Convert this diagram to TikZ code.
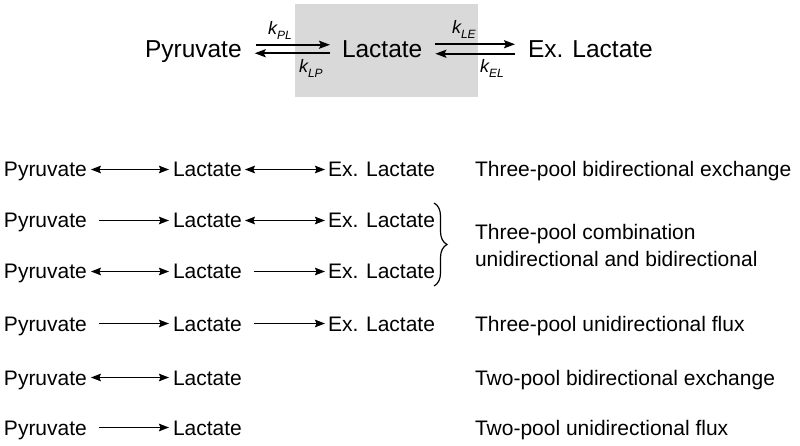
\documentclass[tikz,border=0pt]{standalone}
\usepackage{fontspec}
\setmainfont{Liberation Sans}
\usetikzlibrary{arrows.meta,decorations.pathreplacing}
\definecolor{boxgray}{RGB}{217,217,217}
\begin{document}
\begin{tikzpicture}[x=1pt,y=-1pt,
  lbl/.style={inner sep=0pt,outer sep=0pt,anchor=base west,font=\fontsize{21}{25}\selectfont,text height=15pt,text depth=0pt},
  toplbl/.style={inner sep=0pt,outer sep=0pt,anchor=base west,font=\fontsize{24.5}{28}\selectfont,text height=17.5pt,text depth=0pt},
  klbl/.style={inner sep=0pt,outer sep=0pt,anchor=base west,font=\fontsize{18}{18}\selectfont\itshape},
  desc/.style={inner sep=0pt,outer sep=0pt,anchor=base west,font=\fontsize{21}{25}\selectfont},
  bi/.style={line width=1.5pt,{Stealth[length=10pt,width=7.5pt,inset=1.5pt]}-{Stealth[length=10pt,width=7.5pt,inset=1.5pt]}},
  uni/.style={line width=1.5pt,-{Stealth[length=10pt,width=7.5pt,inset=1.5pt]}},
  topar/.style={line width=1.9pt,-{Stealth[length=11pt,width=8pt,inset=2pt]}}
]
\useasboundingbox (0,0) rectangle (800,446);
% top scheme
\fill[boxgray] (295,4) rectangle (478,97);
\node[toplbl] (p0) at (145,58) {Pyruvate};
\node[toplbl] (l0) at (342,58) {Lactate};
\node[toplbl] (e0) at (528,58) {Ex. Lactate};
\draw[topar,shorten <=14pt,shorten >=12pt] ([yshift=4.5pt]p0.east) -- ([yshift=4.5pt]l0.west);
\draw[topar,shorten <=12pt,shorten >=13pt] ([yshift=-4pt]l0.west) -- ([yshift=-4pt]p0.east);
\draw[topar,shorten <=13pt,shorten >=13pt] ([yshift=5pt]l0.east) -- ([yshift=5pt]e0.west);
\draw[topar,shorten <=13pt,shorten >=13pt] ([yshift=-4.5pt]e0.west) -- ([yshift=-4.5pt]l0.east);
\node[klbl] (kpl) at (268,35) {k\raisebox{-5pt}{\fontsize{12}{12}\selectfont PL}};
\node[klbl] (klp) at (299,73) {k\raisebox{-5pt}{\fontsize{12}{12}\selectfont LP}};
\node[klbl] (kle) at (452,34) {k\raisebox{-5pt}{\fontsize{12}{12}\selectfont LE}};
\node[klbl] (kel) at (480,73) {k\raisebox{-5pt}{\fontsize{12}{12}\selectfont EL}};
% row 1
\node[lbl] (p1) at (4,177) {Pyruvate};
\node[lbl] (l1) at (173,177) {Lactate};
\node[lbl] (e1) at (328,177) {Ex. Lactate};
\draw[bi,shorten <=4pt,shorten >=4pt] (p1) -- (l1);
\draw[bi,shorten <=3pt,shorten >=3pt] (l1) -- (e1);
% row 2
\node[lbl] (p2) at (4,228) {Pyruvate};
\node[lbl] (l2) at (173,228) {Lactate};
\node[lbl] (e2) at (328,228) {Ex. Lactate};
\draw[uni,shorten <=12pt,shorten >=4pt] (p2) -- (l2);
\draw[bi,shorten <=3pt,shorten >=3pt] (l2) -- (e2);
% row 3
\node[lbl] (p3) at (4,279) {Pyruvate};
\node[lbl] (l3) at (173,279) {Lactate};
\node[lbl] (e3) at (328,279) {Ex. Lactate};
\draw[bi,shorten <=4pt,shorten >=4pt] (p3) -- (l3);
\draw[uni,shorten <=12pt,shorten >=3pt] (l3) -- (e3);
% row 4
\node[lbl] (p4) at (4,331) {Pyruvate};
\node[lbl] (l4) at (173,331) {Lactate};
\node[lbl] (e4) at (328,331) {Ex. Lactate};
\draw[uni,shorten <=12pt,shorten >=4pt] (p4) -- (l4);
\draw[uni,shorten <=12pt,shorten >=3pt] (l4) -- (e4);
% row 5
\node[lbl] (p5) at (4,385) {Pyruvate};
\node[lbl] (l5) at (173,385) {Lactate};
\draw[bi,shorten <=4pt,shorten >=4pt] (p5) -- (l5);
% row 6
\node[lbl] (p6) at (4,435) {Pyruvate};
\node[lbl] (l6) at (173,435) {Lactate};
\draw[uni,shorten <=12pt,shorten >=4pt] (p6) -- (l6);
% brace
\coordinate (bt) at (434,203);
\coordinate (bb) at (434,286);
\draw[line width=1.2pt,decorate,decoration={brace,amplitude=13pt,aspect=0.5}] (bt) -- (bb);
% descriptions
\node[desc] (d1) at (475,177) {Three-pool bidirectional exchange};
\node[desc] (d2) at (475,240) {Three-pool combination};
\node[desc] (d3) at (475,266) {unidirectional and bidirectional};
\node[desc] (d4) at (475,331) {Three-pool unidirectional flux};
\node[desc] (d5) at (475,385) {Two-pool bidirectional exchange};
\node[desc] (d6) at (475,435) {Two-pool unidirectional flux};
\end{tikzpicture}
\end{document}
